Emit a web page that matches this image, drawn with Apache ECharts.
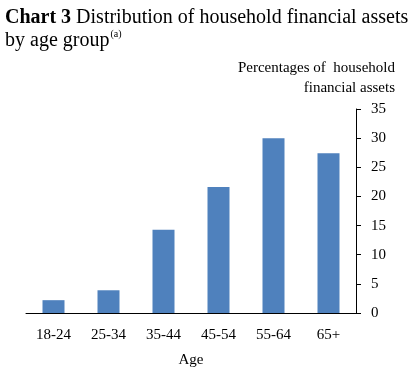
<!DOCTYPE html>
<html>
<head>
<meta charset="utf-8">
<script src="https://cdn.jsdelivr.net/npm/echarts@6/dist/echarts.min.js"></script>
<style>html,body{margin:0;padding:0;background:#fff}#c{width:417px;height:374px}</style>
</head>
<body>
<div id="c"></div>
<script>
var categories = ['18-24', '25-34', '35-44', '45-54', '55-64', '65+'];
var values = [2.2, 3.9, 14.3, 21.6, 30.0, 27.4];
var yTicks = { min: 0, max: 35, interval: 5 };
var yAxisTitle = ['Percentages of  household', 'financial assets'];

var serif = 'Liberation Serif';
var chart = echarts.init(document.getElementById('c'), null, { renderer: 'canvas' });
chart.setOption({
  animation: false,
  backgroundColor: '#fff',
  title: [{
    left: 5, top: 6, padding: 0,
    text: '{b|Chart 3} Distribution of household financial assets\nby age group{s|(a)}',
    textStyle: {
      fontFamily: serif, fontSize: 20, fontWeight: 'normal', color: '#000', lineHeight: 23,
      rich: {
        b: { fontFamily: serif, fontSize: 20, fontWeight: 'bold', color: '#000', lineHeight: 23 },
        s: { fontFamily: serif, fontSize: 10, color: '#000', verticalAlign: 'top', padding: [0, 0, 10, 1], lineHeight: 23 }
      }
    }
  }],
  graphic: [{
    type: 'text', right: 22, top: 61,
    style: { text: yAxisTitle[0], font: '15px "Liberation Serif"', fill: '#000' }
  }, {
    type: 'text', right: 22, top: 81,
    style: { text: yAxisTitle[1], font: '15px "Liberation Serif"', fill: '#000' }
  }],
  grid: { left: 26, right: 61, top: 109, bottom: 61 },
  xAxis: {
    type: 'category',
    data: categories,
    name: 'Age',
    nameLocation: 'middle',
    nameGap: 40,
    nameTextStyle: { fontFamily: serif, fontSize: 15, color: '#000' },
    axisLine: { lineStyle: { color: '#000', width: 1 } },
    axisTick: { inside: true, length: 4, lineStyle: { color: '#000' } },
    axisLabel: { fontFamily: serif, fontSize: 15, color: '#000', margin: 15 }
  },
  yAxis: {
    type: 'value',
    position: 'right',
    min: yTicks.min, max: yTicks.max, interval: yTicks.interval,
    axisLine: { show: true, lineStyle: { color: '#000', width: 1 } },
    axisTick: { show: true, length: 5, lineStyle: { color: '#000' } },
    axisLabel: { fontFamily: serif, fontSize: 15, color: '#000', margin: 15 },
    splitLine: { show: false }
  },
  series: [{
    type: 'bar',
    data: values,
    barCategoryGap: '60%',
    itemStyle: { color: '#4F81BD' }
  }]
});
</script>
</body>
</html>
